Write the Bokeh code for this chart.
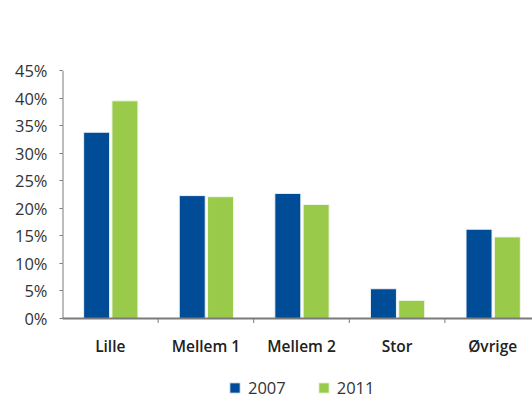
from bokeh.plotting import figure
from bokeh.models import (ColumnDataSource, Range1d, FixedTicker, PrintfTickFormatter,
                          Legend, LegendItem)
from bokeh.core.properties import value
from bokeh.embed import file_html
from bokeh.resources import INLINE

# Share by size class, 2007 vs 2011 (percent)
categories = ["Lille", "Mellem 1", "Mellem 2", "Stor", "Øvrige"]
share_2007 = [33.8, 22.3, 22.7, 5.4, 16.2]
share_2011 = [39.5, 22.1, 20.7, 3.3, 14.8]
y_ticks = [0, 5, 10, 15, 20, 25, 30, 35, 40, 45]

BLUE = "#004c97"
GREEN = "#9aca4a"
AXIS = "#7a7a7a"
TEXT = "#333333"
FONT = "Open Sans"

W, H = 532, 399
LEFT, TOP_PX, ZERO_PX = 62, 70, 318
CAT_PX = 95.6                      # width of one category slot in pixels

# plot frame runs from the top of the value scale down to the page bottom;
# the space under zero holds the category names and the legend
px_per_unit = (ZERO_PX - TOP_PX) / 45.0
y_min = -(H - ZERO_PX) / px_per_unit
label_y = -27.5 / px_per_unit
tick_y = -4.5 / px_per_unit

n = len(categories)
x_max = (W - LEFT) / CAT_PX        # last slot runs past the right edge
centers = [i + 0.5 for i in range(n)]
src = ColumnDataSource(dict(
    x07=[c - 0.143 for c in centers],
    x11=[c + 0.153 for c in centers],
    v07=share_2007,
    v11=share_2011,
))

p = figure(width=W, height=H, output_backend="svg", toolbar_location=None,
           x_range=Range1d(0, x_max), y_range=Range1d(y_min, 45),
           min_border_left=LEFT, min_border_right=0, min_border_top=TOP_PX,
           min_border_bottom=0)
p.outline_line_color = None
p.grid.visible = False
p.xaxis.visible = False

r07 = p.vbar(x="x07", top="v07", width=0.272, source=src,
             fill_color=BLUE, line_color="#eef2f8", line_width=1)
r11 = p.vbar(x="x11", top="v11", width=0.272, source=src,
             fill_color=GREEN, line_color="#f2f8ea", line_width=1)

# value axis line (only over the 0-45 % span) and the zero baseline
p.segment(x0=[0], y0=[0], x1=[0], y1=[45], line_color=AXIS, line_width=2)
p.segment(x0=[-0.02], y0=[0], x1=[n], y1=[0], line_color=AXIS, line_width=2)
# short ticks at the category boundaries
bounds = list(range(1, n))
p.segment(x0=bounds, y0=[0] * len(bounds), x1=bounds, y1=[tick_y] * len(bounds),
          line_color=AXIS, line_width=1)
# category names
p.text(x=centers, y=[label_y] * n, text=categories,
       text_font=value("Open Sans SemiBold, Open Sans"), text_font_size="15.5px",
       text_font_style="normal", text_color="#222222",
       text_align="center", text_baseline="alphabetic")

ya = p.yaxis[0]
ya.ticker = FixedTicker(ticks=y_ticks, minor_ticks=[])
ya.formatter = PrintfTickFormatter(format="%d%%")
ya.axis_line_color = None
ya.major_tick_line_color = AXIS
ya.major_tick_line_width = 1
ya.major_tick_out = 3
ya.major_tick_in = 0
ya.major_label_standoff = 12
ya.major_label_text_font = FONT
ya.major_label_text_font_size = "16.5px"
ya.major_label_text_color = TEXT

legend = Legend(items=[LegendItem(label="2007", renderers=[r07]),
                       LegendItem(label="2011", renderers=[r11])],
                orientation="horizontal", location=(166, 0),
                glyph_width=13, glyph_height=13, label_standoff=7, spacing=31,
                padding=0, margin=0, border_line_color=None,
                background_fill_alpha=0,
                label_text_font=FONT, label_text_font_size="16.5px",
                label_text_color=TEXT)
p.add_layout(legend)

open("out.html", "w").write(file_html(p, INLINE))
